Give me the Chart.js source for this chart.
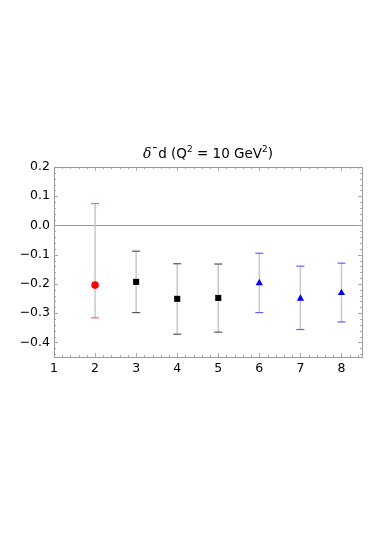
<!DOCTYPE html>
<html><head><meta charset="utf-8">
<script src="https://cdn.jsdelivr.net/npm/chart.js@4.4.1/dist/chart.umd.min.js"></script>
<style>html,body{margin:0;padding:0;background:#fff}#wrap{width:382px;height:540px}</style>
</head><body><div id="wrap"><canvas id="c" width="382" height="540"></canvas></div>
<script>
const titleParts = [['δ', 'italic'], ['¯', 'normal'], ['d (Q', 'normal'], ['2', 'sup'], [' = 10 GeV', 'normal'], ['2', 'sup'], [')', 'normal']];
const xCats = [2, 3, 4, 5, 6, 7, 8];
const central = [-0.204, -0.193, -0.251, -0.248, -0.197, -0.250, -0.231];
const upper   = [ 0.075, -0.088, -0.131, -0.132, -0.095, -0.139, -0.129];
const lower   = [-0.316, -0.298, -0.372, -0.365, -0.298, -0.356, -0.330];
const groupOf = [0, 1, 1, 1, 2, 2, 2];
const xTicks = [1, 2, 3, 4, 5, 6, 7, 8];
const yTicks = [-0.4, -0.3, -0.2, -0.1, 0.0, 0.1, 0.2];
const yTickLabels = ['−0.4', '−0.3', '−0.2', '−0.1', '0.0', '0.1', '0.2'];

const markerStyle = ['circle', 'rect', 'triangle'];
const markerColor = ['#ff0000', '#000000', '#0000ff'];
const capColor = ['#f07070', '#555555', '#6060ff'];
const markerRadius = [3.8, 4.3, 4.2];

const datasets = [];
[0,1,2].forEach(g => {
  const pts = xCats.map((x,i)=>({x, y: central[i], g: groupOf[i]})).filter(p=>p.g===g).map(p=>({x:p.x,y:p.y}));
  datasets.push({type:'scatter', data: pts, pointStyle: markerStyle[g], pointRadius: markerRadius[g],
    pointHoverRadius: markerRadius[g], backgroundColor: markerColor[g], borderColor: markerColor[g], borderWidth: 0, order: 0});
});
[0,1,2].forEach(g => {
  const pts = [];
  xCats.forEach((x,i)=>{ if (groupOf[i]===g){ pts.push({x, y: upper[i]}); pts.push({x, y: lower[i]}); } });
  datasets.push({type:'scatter', data: pts, pointStyle: 'line', pointRadius: 4, pointHoverRadius: 4,
    borderColor: capColor[g], backgroundColor: capColor[g], borderWidth: 1.2, order: 1});
});
xCats.forEach((x,i)=>{
  datasets.push({type:'line', data: [{x, y: lower[i]}, {x, y: upper[i]}], borderColor: '#c8c8c8',
    borderWidth: 1.5, pointRadius: 0, pointHoverRadius: 0, fill: false, order: 2});
});

const titlePlugin = {
  id: 'titleDraw',
  afterDraw(chart) {
    const {ctx, chartArea: a} = chart;
    ctx.save();
    ctx.fillStyle = '#000';
    ctx.textBaseline = 'alphabetic';
    const fontFor = s => s === 'italic' ? 'italic 14px "DejaVu Serif"' : (s === 'sup' ? '9px "DejaVu Sans"' : '13.5px "DejaVu Sans"');
    let total = 0;
    titleParts.forEach(([t, s]) => { ctx.font = fontFor(s); total += ctx.measureText(t).width; });
    let xx = (a.left + a.right) / 2 - total / 2;
    const base = 158;
    titleParts.forEach(([t, s]) => {
      ctx.font = fontFor(s);
      ctx.fillText(t, xx, s === 'sup' ? base - 6 : base);
      xx += ctx.measureText(t).width;
    });
    ctx.restore();
  }
};

const frameTicks = {
  id: 'frameTicks',
  afterDraw(chart) {
    const {ctx, chartArea: a, scales: {x, y}} = chart;
    ctx.save();
    ctx.strokeStyle = '#aaaaaa';
    ctx.lineWidth = 1;
    for (let k = 0; k <= 37; k++) {
      const v = 1 + k * 0.2;
      const px = Math.round(x.getPixelForValue(v)) + 0.5;
      const len = k % 5 === 0 ? 4 : 2;
      ctx.beginPath();
      ctx.moveTo(px, a.bottom); ctx.lineTo(px, a.bottom - len);
      ctx.moveTo(px, a.top); ctx.lineTo(px, a.top + len);
      ctx.stroke();
    }
    for (let k = -22; k <= 10; k++) {
      const v = k * 0.02;
      const py = Math.round(y.getPixelForValue(v)) + 0.5;
      const len = k % 5 === 0 ? 4 : 2;
      ctx.beginPath();
      ctx.moveTo(a.left, py); ctx.lineTo(a.left + len, py);
      ctx.moveTo(a.right, py); ctx.lineTo(a.right - len, py);
      ctx.stroke();
    }
    ctx.strokeStyle = '#999999';
    ctx.strokeRect(Math.round(a.left)+0.5, Math.round(a.top)+0.5, Math.round(a.right-a.left), Math.round(a.bottom-a.top));
    ctx.restore();
  }
};

new Chart(document.getElementById('c'), {
  type: 'scatter',
  data: { datasets },
  options: {
    responsive: false, animation: false, events: [],
    layout: { padding: { top: 167, right: 20, bottom: 163, left: 0 } },
    plugins: { legend: { display: false }, tooltip: { enabled: false }, title: { display: false } },
    scales: {
      x: { type: 'linear', min: 1, max: 8.5,
        afterBuildTicks: s => { s.ticks = xTicks.map(v => ({value: v})); },
        afterFit: s => { s.height = 20; },
        grid: { display: false, drawTicks: false }, border: { display: false },
        ticks: { padding: 4, color: '#000', font: { family: 'DejaVu Sans', size: 12.5 }, callback: v => String(v) } },
      y: { type: 'linear', min: -0.45, max: 0.2,
        afterBuildTicks: s => { s.ticks = yTicks.map(v => ({value: v})); },
        afterFit: s => { s.width = 54; },
        grid: { drawTicks: false, color: c => (c.tick && Math.abs(c.tick.value) < 1e-9) ? '#999999' : 'rgba(0,0,0,0)' },
        border: { display: false },
        ticks: { padding: 4, color: '#000', font: { family: 'DejaVu Sans', size: 12.5 },
          callback: (v) => { const i = yTicks.findIndex(t => Math.abs(t - v) < 1e-9); return i >= 0 ? yTickLabels[i] : ''; } } }
    }
  },
  plugins: [frameTicks, titlePlugin]
});
</script></body></html>
